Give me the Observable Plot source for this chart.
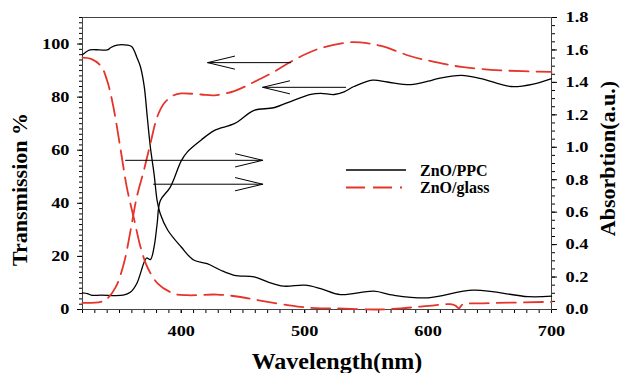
<!DOCTYPE html>
<html>
<head>
<meta charset="utf-8">
<script src="https://cdn.jsdelivr.net/npm/d3@7"></script>
<script src="https://cdn.jsdelivr.net/npm/@observablehq/plot@0.6"></script>
<style>
  html, body { margin: 0; padding: 0; background: #fff; }
  #chart { width: 624px; height: 373px; }
</style>
</head>
<body>
<div id="chart"></div>
<script>
// ---- Data ----
// ZnO/PPC transmission (%), left axis
const ppcTransX = [320,324,327,335,353,359,364,370,372,375,378,380.5,383,391,400,405,416,427,443,459,475,491,505,513,524,532,540,555,567,586,600,608,627,643,667,686,700];
const ppcTransY = [6.3,6.0,5.4,5.4,5.4,6.6,9.8,17.9,19.4,18.8,23.6,32.4,41,46,56,59.4,63.8,67.5,70,75,76,78.8,81,81.4,81,82,84,86.4,85.7,84.7,86,87,88.2,87,84,85,87];
// ZnO/glass transmission (%), left axis
const glassTransX = [320,335,340,347,353.5,359,364,369.5,375,380.5,386,394,400,416,427,443,459,475,491,510,535,545,562,586,605,627,659,700];
const glassTransY = [2.5,2.9,4.1,8.5,17.3,29.9,42.4,52,62.5,72.5,77.6,80.7,81.4,81,80.7,82.3,85.7,89.5,93.9,98,100.6,100.6,99.3,95.4,93.3,91.4,90.1,89.5];
// ZnO/PPC absorption (a.u.), right axis
const ppcAbsX = [320,326,334,340,343,348,356,360,364,367,370,372.5,375,378,380.5,383,389,400,410,421,432,443,459,470,483,500,513,529,556,572,600,637,681,700];
const ppcAbsY = [1.57,1.60,1.60,1.60,1.615,1.63,1.63,1.62,1.555,1.495,1.375,1.185,1.0,0.835,0.67,0.59,0.49,0.385,0.305,0.283,0.242,0.211,0.201,0.17,0.144,0.15,0.129,0.092,0.113,0.088,0.072,0.119,0.079,0.082];
// ZnO/glass absorption (a.u.), right axis
const glassAbsX = [320,327,335,340,345,351,356,362,367,372.5,381,394,405,429,448,470,497,513,524,559,578,605,618,622,625,628,645,700];
const glassAbsY = [1.553,1.545,1.50,1.41,1.25,0.98,0.75,0.55,0.386,0.262,0.16,0.098,0.088,0.092,0.077,0.047,0.016,0.007,0.007,0.0,0.007,0.026,0.033,0.025,0.007,0.031,0.038,0.047];

// Axis ticks
const xTickLabels = [400,500,600,700];
const leftTickLabels = [0,20,40,60,80,100];
const rightTickLabels = [0.0,0.2,0.4,0.6,0.8,1.0,1.2,1.4,1.6,1.8];

// Annotation arrows (tail -> head), in wavelength / transmission units
const arrowTailX = [488.7,533.2,354.9,377.6];
const arrowHeadX = [421.4,466,466,466];
const arrowY = [93.0,83.7,56.2,47.2];

const seriesNames = ["ZnO/PPC","ZnO/glass"];

// ---- Build tables ----
const leftMax = 110, rightMax = 1.8, k = leftMax / rightMax;
const zip = (xs, ys, f = v => v) => xs.map((x, i) => ({x, y: f(ys[i])}));
const ppcT = zip(ppcTransX, ppcTransY);
const glassT = zip(glassTransX, glassTransY);
const ppcA = zip(ppcAbsX, ppcAbsY, v => v * k);
const glassA = zip(glassAbsX, glassAbsY, v => v * k);
const arrows = arrowY.map((y, i) => ({x1: arrowTailX[i], x2: arrowHeadX[i], y}));

const RED = "#e5352b";
const DASH = "19,8";

function legend(index, scales, values, dims) {
  const g = d3.create("svg:g")
    .attr("font-family", "'Liberation Serif', 'Times New Roman', serif")
    .attr("font-weight", "bold").attr("font-size", 16)
    .attr("text-anchor", "start");
  const x0 = dims.marginLeft + 264, tx = dims.marginLeft + 338, y0 = dims.marginTop + 153, gap = 17.5;
  const styles = [{stroke: "#000", dash: null, w: 1.3, len: 60}, {stroke: RED, dash: DASH, w: 1.8, len: 56}];
  seriesNames.forEach((name, i) => {
    const y = y0 + i * gap;
    g.append("line").attr("x1", x0).attr("x2", x0 + styles[i].len).attr("y1", y).attr("y2", y)
      .attr("stroke", styles[i].stroke).attr("stroke-width", styles[i].w)
      .attr("stroke-dasharray", styles[i].dash);
    g.append("text").attr("x", tx).attr("y", y).attr("dy", "0.35em").attr("text-anchor", "start").text(name);
  });
  return g.node();
}

const chart = Plot.plot({
  width: 624,
  height: 373,
  marginLeft: 82,
  marginRight: 73,
  marginTop: 17,
  marginBottom: 64,
  style: {fontFamily: "'Liberation Serif', 'Times New Roman', serif", fontWeight: "bold", fontSize: "15px", color: "#000", background: "#fff"},
  x: {domain: [320, 700]},
  y: {domain: [0, leftMax]},
  marks: [
    // minor ticks
    Plot.axisX({ticks: d3.range(320, 701, 10), tickSize: 4, text: null, label: null}),
    Plot.axisX({ticks: xTickLabels, tickSize: 4, tickPadding: 12, label: null, tickFormat: d => String(d)}),
    Plot.axisY({ticks: d3.range(0, 111, 2), tickSize: 3, text: null, label: null}),
    Plot.axisY({ticks: leftTickLabels, tickSize: 5, tickPadding: 8, label: null}),
    Plot.axisY({anchor: "right", ticks: d3.range(0, 37).map(i => i * 0.05 * k), tickSize: 3, text: null, label: null}),
    Plot.axisY({anchor: "right", ticks: rightTickLabels.map(v => v * k), tickSize: 5, tickPadding: 9, label: null,
                tickFormat: d => (d / k).toFixed(1)}),
    Plot.frame({stroke: "#444", strokeWidth: 1}),
    Plot.line(ppcA, {x: "x", y: "y", curve: "catmull-rom", stroke: "#000", strokeWidth: 1.3}),
    Plot.line(ppcT, {x: "x", y: "y", curve: "catmull-rom", stroke: "#000", strokeWidth: 1.3}),
    Plot.line(glassA, {x: "x", y: "y", curve: "catmull-rom", stroke: RED, strokeWidth: 1.8, strokeDasharray: DASH}),
    Plot.line(glassT, {x: "x", y: "y", curve: "catmull-rom", stroke: RED, strokeWidth: 1.8, strokeDasharray: DASH}),
    Plot.arrow(arrows, {x1: "x1", x2: "x2", y1: "y", y2: "y", stroke: "#000", strokeWidth: 1, headLength: 42, headAngle: 27}),
    legend,
    Plot.text(["Wavelength(nm)"], {frameAnchor: "bottom", dx: 20, dy: 52, fontSize: 24, lineAnchor: "middle", textAnchor: "middle"}),
    Plot.text(["Transmission %"], {frameAnchor: "left", dx: -63, dy: 26, rotate: -90, fontSize: 22, lineAnchor: "middle", textAnchor: "middle"}),
    Plot.text(["Absorbtion(a.u.)"], {frameAnchor: "right", dx: 56, dy: -5, rotate: -90, fontSize: 22, lineAnchor: "middle", textAnchor: "middle"})
  ]
});

document.getElementById("chart").appendChild(chart);
// Tick labels in the reference are horizontally wide; stretch them.
d3.select(chart).selectAll('[aria-label$="tick label"] text').each(function () {
  const w = this.getComputedTextLength();
  if (w > 0) { this.setAttribute("textLength", w * 1.22); this.setAttribute("lengthAdjust", "spacingAndGlyphs"); }
});
</script>
</body>
</html>
